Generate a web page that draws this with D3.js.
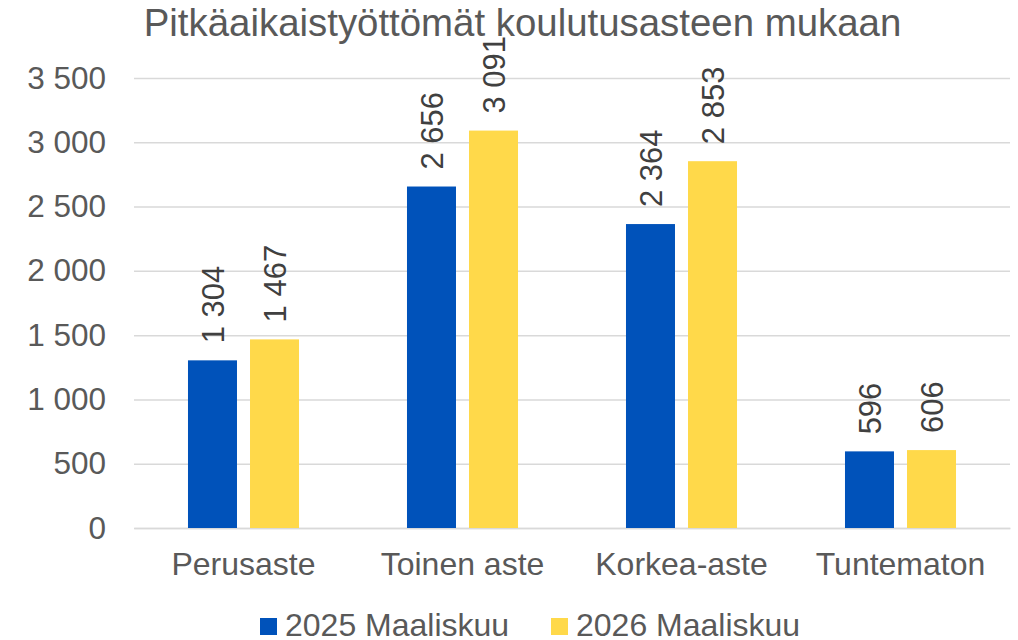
<!DOCTYPE html>
<html>
<head>
<meta charset="utf-8">
<script src="https://cdn.jsdelivr.net/npm/d3@7"></script>
<style>
  body { margin: 0; background: #fff; }
  svg text { font-family: "Liberation Sans", Arial, sans-serif; }
</style>
</head>
<body>
<div id="plot"></div>
<script>
// data
const categories = ["Perusaste", "Toinen aste", "Korkea-aste", "Tuntematon"];
const seriesNames = ["2025 Maaliskuu", "2026 Maaliskuu"];
const values2025 = [1304, 2656, 2364, 596];
const values2026 = [1467, 3091, 2853, 606];
const yTicks = [0, 500, 1000, 1500, 2000, 2500, 3000, 3500];
const colors = ["#0052BA", "#FFD94A"];

const width = 1018;
const height = 640;
const margin = {left: 134, right: 8, top: 78, bottom: 112};

const svg = d3.select("div#plot")
    .append("svg")
    .attr("width", width)
    .attr("height", height);

const fmt = d3.formatLocale({decimal: ",", thousands: " ", grouping: [3], currency: ["", " €"]}).format(",d");

const y = d3.scaleLinear()
    .domain([0, 3500])
    .range([height - margin.bottom, margin.top]);

const x0 = d3.scaleBand()
    .domain(categories)
    .range([margin.left, width - margin.right])
    .paddingInner(0.493)
    .paddingOuter(0.2465);

const x1 = d3.scaleBand()
    .domain(seriesNames)
    .range([0, x0.bandwidth()])
    .paddingInner(0.21);

// gridlines + y labels
const yAxis = d3.axisLeft(y)
    .tickValues(yTicks)
    .tickSize(-(width - margin.right - margin.left))
    .tickPadding(28)
    .tickFormat(fmt);

const gy = svg.append("g")
    .attr("transform", `translate(${margin.left},0)`)
    .call(yAxis);
gy.select(".domain").remove();
gy.selectAll(".tick line").attr("stroke", "#d9d9d9").attr("stroke-width", 1.5);
gy.selectAll(".tick text")
    .attr("fill", "#595959")
    .style("font-size", "31.5px");

// x labels
const xAxis = d3.axisBottom(x0).tickSize(0).tickPadding(24);
const gx = svg.append("g")
    .attr("transform", `translate(0,${y(0)})`)
    .call(xAxis);
gx.select(".domain").attr("stroke", "#d9d9d9").attr("stroke-width", 1.5);
gx.selectAll(".tick text")
    .attr("fill", "#595959")
    .style("font-size", "32px");

// bars
const rows = categories.map((c, i) => ({cat: c, vals: [values2025[i], values2026[i]]}));

const groups = svg.append("g").selectAll("g")
    .data(rows)
    .join("g")
    .attr("transform", d => `translate(${x0(d.cat)},0)`);

const cells = groups.selectAll("g")
    .data(d => d.vals.map((v, j) => ({name: seriesNames[j], v: v, j: j})))
    .join("g");

cells.append("rect")
    .attr("x", d => x1(d.name))
    .attr("width", x1.bandwidth())
    .attr("y", d => y(d.v))
    .attr("height", d => y(0) - y(d.v))
    .attr("fill", d => colors[d.j]);

cells.append("text")
    .attr("transform", d => `translate(${x1(d.name) + x1.bandwidth() / 2},${y(d.v) - 17}) rotate(-90)`)
    .attr("dy", "0.36em")
    .attr("fill", "#404040")
    .style("font-size", "31px")
    .text(d => fmt(d.v));

// title
svg.append("text")
    .attr("x", 522.5)
    .attr("y", 36)
    .attr("text-anchor", "middle")
    .attr("fill", "#595959")
    .style("font-size", "38.4px")
    .text("Pitkäaikaistyöttömät koulutusasteen mukaan");

// legend
const legendX = [260, 551];
const leg = svg.append("g").selectAll("g")
    .data(seriesNames)
    .join("g")
    .attr("transform", (d, i) => `translate(${legendX[i]},618)`);
leg.append("rect")
    .attr("width", 17)
    .attr("height", 17)
    .attr("fill", (d, i) => colors[i]);
leg.append("text")
    .attr("x", 25)
    .attr("y", 18)
    .attr("fill", "#595959")
    .style("font-size", "32px")
    .text(d => d);
</script>
</body>
</html>
